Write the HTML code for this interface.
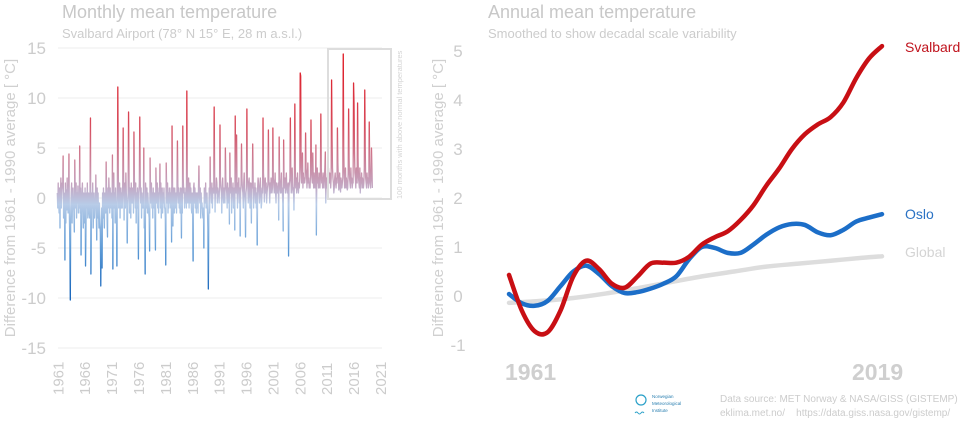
<!DOCTYPE html>
<html><head><meta charset="utf-8">
<style>
html,body{margin:0;padding:0;background:#fff;}
svg{display:block;font-family:"Liberation Sans",sans-serif;}
</style></head>
<body>
<svg id="chart" width="972" height="426" viewBox="0 0 972 426">
<defs>
<linearGradient id="barGrad" gradientUnits="userSpaceOnUse" x1="0" y1="48" x2="0" y2="300">
<stop offset="0" stop-color="#e0101a"/>
<stop offset="0.3" stop-color="#d84a5a"/>
<stop offset="0.55" stop-color="#c4a8c4"/>
<stop offset="0.62" stop-color="#b8cce8"/>
<stop offset="0.8" stop-color="#5c9ad6"/>
<stop offset="1" stop-color="#1060b8"/>
</linearGradient>
</defs>
<g id="left">
<text x="62" y="18" font-size="18" fill="#c8c8c8">Monthly mean temperature</text>
<text x="62" y="38" font-size="13" fill="#cccccc">Svalbard Airport (78° N 15° E, 28 m a.s.l.)</text>
<text transform="translate(15,198) rotate(-90)" text-anchor="middle" font-size="15" fill="#d0d0d0">Difference from 1961 - 1990 average [ °C]</text>
<g id="lgrid"></g><g id="lbars"></g><g id="lticks"></g>
<rect x="328" y="49" width="63" height="150" fill="none" stroke="#dddddd" stroke-width="2"/>
<text transform="translate(402,199) rotate(-90)" font-size="7.5" fill="#d4d4d4">100 months with above normal temperatures</text>
</g>
<g id="right">
<text x="488" y="18" font-size="18" fill="#c8c8c8">Annual mean temperature</text>
<text x="488" y="38" font-size="13" fill="#cccccc">Smoothed to show decadal scale variability</text>
<text transform="translate(443,198) rotate(-90)" text-anchor="middle" font-size="15" fill="#d0d0d0">Difference from 1961 - 1990 average [ °C]</text>
<g id="rticks"></g><g id="rlines"></g>
<text x="505" y="380" font-size="23" font-weight="bold" fill="#cfcfcf">1961</text>
<text x="852" y="380" font-size="23" font-weight="bold" fill="#cfcfcf">2019</text>
<text x="905" y="52" font-size="14" fill="#c0141e">Svalbard</text>
<text x="905" y="219" font-size="14" fill="#2a72c4">Oslo</text>
<text x="905" y="257" font-size="14" fill="#d4d4d4">Global</text>
</g>
<g>
<circle cx="641" cy="400" r="5" fill="none" stroke="#2aa0c8" stroke-width="1.2"/>
<path d="M635 413 q1.5 -2 3 0 q1.5 2 3 0 q1.5 -2 3 0" fill="none" stroke="#2aa0c8" stroke-width="1"/>
<text x="652" y="398" font-size="4.5" fill="#2a7fb0">Norwegian</text>
<text x="652" y="405" font-size="4.5" fill="#2a7fb0">Meteorological</text>
<text x="652" y="412" font-size="4.5" fill="#2a7fb0">Institute</text>
</g>
<text x="720" y="402" font-size="10" fill="#cccccc">Data source: MET Norway &amp; NASA/GISS (GISTEMP)</text>
<text x="720" y="416" font-size="10" fill="#cccccc">eklima.met.no/ &#160;&#160; https://data.giss.nasa.gov/gistemp/</text>
</svg>
<script>
const monthlyStartYear = 1961;
const monthly = [
[0.5,-1.0,1.5,-0.5,-1.5,1.0,-3.0,0.5,2.0,-1.0,0.5,1.5],
[1.0,4.2,-2.0,0.5,-1.0,-6.2,1.5,-2.5,0.8,-1.2,2.0,-0.5],
[-1.5,0.5,4.4,-2.0,-4.5,-10.2,-1.0,0.5,1.5,-2.5,-0.5,1.0],
[-0.5,-1.5,-3.4,3.8,0.5,-1.0,1.5,-2.0,0.5,-0.5,1.2,-1.5],
[0.5,-1.0,5.2,-1.5,1.0,-5.7,-2.0,0.5,1.5,-1.0,-3.0,0.5],
[-1.5,-2.5,1.0,-6.8,-3.0,0.5,-1.0,1.5,-2.0,-0.5,0.5,-1.5],
[-2.0,1.0,8.0,-7.6,-2.5,0.5,-1.0,1.5,-3.0,-1.5,0.5,-2.0],
[-1.0,-0.5,2.3,-1.5,-4.2,1.0,-2.0,0.5,-1.5,-3.0,-0.5,-2.5],
[-3.5,-8.8,-4.0,-1.0,-7.0,0.5,-2.0,1.0,-1.5,-3.0,0.5,-1.0],
[-1.5,3.6,0.5,-2.0,-3.9,1.0,-1.0,2.0,0.5,-1.5,1.0,-0.5],
[-1.0,0.5,-2.0,4.3,-7.1,1.5,2.5,-1.0,0.5,-2.5,1.0,-0.5],
[-1.5,-6.8,1.0,11.1,3.0,-1.0,0.5,1.5,-2.0,0.5,1.0,-1.0],
[0.5,-1.0,1.5,7.0,2.0,-2.2,0.5,1.5,-1.0,2.5,0.5,-0.5],
[-4.5,-1.0,0.5,8.6,2.5,-1.5,1.0,0.5,-2.0,1.5,-0.5,1.0],
[-0.5,1.0,-1.5,6.6,2.0,0.5,-1.0,1.5,-2.5,0.5,-1.0,1.0],
[-1.5,-6.1,0.5,1.5,8.1,2.0,-0.5,1.0,-2.0,0.5,-1.0,-0.5],
[-1.0,5.0,-3.0,-2.0,-7.6,1.5,0.5,-1.0,1.0,-1.5,0.5,-0.5],
[-1.5,-2.0,-5.3,4.0,1.0,-0.5,1.5,-1.0,0.5,-2.0,1.0,-0.5],
[-1.0,0.5,-2.5,-5.2,3.0,1.0,-0.5,1.5,-1.0,0.5,-1.5,1.0],
[0.5,3.4,-1.0,1.5,-2.0,0.5,1.0,-1.5,0.5,-0.5,1.0,-1.0],
[-1.0,-2.0,-6.7,3.5,1.0,-0.5,1.5,-1.5,0.5,-1.0,1.0,-0.5],
[0.5,-1.0,1.0,-4.4,7.2,2.0,-2.8,1.0,0.5,-1.5,1.0,-0.5],
[-1.0,0.5,-1.5,1.0,5.7,1.5,-0.5,1.0,-1.0,0.5,-1.5,1.0],
[-0.5,-4.0,1.0,-1.5,7.2,2.0,0.5,1.0,-1.0,0.5,-0.5,1.0],
[-1.0,10.7,1.5,-0.5,1.0,2.0,-1.0,0.5,1.5,-0.5,1.0,-1.0],
[-1.5,0.5,-2.0,-6.3,1.0,1.5,-0.5,1.0,-1.0,0.5,-1.5,0.5],
[-1.0,0.5,-1.5,1.0,3.2,0.5,-0.5,1.0,-2.0,0.5,-1.0,-0.5],
[-1.5,-2.0,-1.0,-5.0,1.0,0.5,-0.5,1.5,-1.0,-0.5,0.5,-1.5],
[-3.0,-9.1,-2.0,1.0,-1.5,4.1,0.5,1.0,-0.5,1.5,-1.0,0.5],
[1.0,0.5,9.1,2.5,-1.4,1.0,0.5,2.0,1.5,-0.5,1.0,0.5],
[0.5,-0.5,1.5,7.3,2.0,1.0,0.5,-1.5,1.0,2.0,0.5,-0.5],
[1.0,0.5,-0.5,5.0,2.0,1.0,0.5,-1.0,1.5,0.5,-0.5,1.0],
[-2.6,4.5,1.0,0.5,2.0,-1.5,1.0,0.5,1.5,-1.0,0.5,1.0],
[-3.2,8.2,2.0,0.5,6.3,1.0,-1.0,1.5,0.5,2.0,-0.5,1.0],
[-3.8,0.5,1.5,5.4,2.0,1.0,0.5,-1.0,1.5,2.5,0.5,-0.5],
[-3.9,0.5,1.0,8.9,2.0,1.5,-0.5,1.0,2.0,0.5,-1.0,1.5],
[0.5,-2.5,1.5,1.0,5.4,2.0,-1.0,1.0,0.5,1.5,-0.5,1.0],
[-1.0,0.5,-4.7,1.0,2.0,1.5,0.5,-0.5,1.0,2.0,0.5,-1.0],
[-0.5,1.0,0.5,8.0,2.5,1.5,-0.4,1.0,2.0,0.5,1.5,-0.5],
[0.5,1.0,1.5,6.8,2.0,1.0,-0.5,1.5,0.5,2.0,1.0,0.5],
[1.0,7.0,2.0,1.5,0.5,1.0,2.5,0.5,-0.5,1.5,1.0,0.5],
[0.5,1.5,-2.2,6.1,2.0,1.0,0.5,1.5,2.5,0.5,1.0,-0.5],
[-3.3,5.8,1.5,1.0,2.0,0.5,1.5,2.5,1.0,0.5,1.0,1.5],
[-5.8,1.0,1.5,2.0,8.0,2.5,0.5,1.0,3.0,1.5,0.5,1.0],
[-1.2,1.5,9.4,3.0,1.0,2.0,0.5,1.5,2.5,1.0,0.5,1.5],
[1.0,2.0,12.5,12.2,3.0,1.5,2.0,4.5,1.0,2.5,1.5,2.0],
[1.5,2.0,6.5,3.0,2.5,1.0,2.0,3.5,1.5,2.0,1.0,1.5],
[1.0,2.5,7.8,3.5,2.0,1.5,4.5,2.0,1.0,2.5,1.5,1.0],
[1.5,5.3,-3.7,2.0,3.0,1.5,2.0,1.0,2.5,1.5,1.0,2.0],
[8.4,3.0,1.5,2.0,1.0,2.5,1.5,1.0,2.0,3.0,4.6,-0.5],
[1.5,2.0,1.0,2.5,1.5,3.0,2.0,1.5,2.5,2.0,1.0,2.0],
[11.8,6.0,3.0,2.0,1.5,0.5,1.0,2.0,2.5,1.5,1.0,2.0],
[1.5,7.0,3.5,2.0,0.8,1.5,2.5,1.0,0.6,2.0,1.5,1.0],
[1.5,2.0,14.4,5.0,2.5,1.0,1.5,3.0,1.0,2.0,1.5,0.8],
[1.0,2.5,8.9,4.0,2.0,1.5,1.0,3.0,1.5,2.0,1.0,1.5],
[1.5,11.5,9.5,5.0,2.5,2.0,1.0,3.0,2.0,1.5,9.5,4.0],
[2.0,1.5,1.0,3.0,0.5,2.0,1.5,2.5,1.0,2.0,1.5,1.0],
[1.5,3.0,10.8,5.0,2.0,1.5,1.0,2.5,1.5,2.0,1.0,1.5],
[7.6,3.5,1.5,1.0,2.0,5.0,3.0,1.0]
];
const leftYTicks = [15,10,5,0,-5,-10,-15];
const leftXTicks = [1961,1966,1971,1976,1981,1986,1991,1996,2001,2006,2011,2016,2021];

const annualSvalbardYears = [1961,1963,1965,1967,1969,1971,1973,1975,1977,1979,1981,1983,1985,1987,1989,1991,1993,1995,1997,1999,2001,2003,2005,2007,2009,2011,2013,2015,2017,2019];
const annualSvalbard = [0.43,-0.3,-0.72,-0.74,-0.3,0.4,0.72,0.55,0.25,0.17,0.4,0.66,0.68,0.68,0.8,1.05,1.2,1.32,1.55,1.85,2.25,2.6,3.0,3.3,3.5,3.65,3.95,4.45,4.85,5.1];
const annualOsloYears = annualSvalbardYears;
const annualOslo = [0.04,-0.15,-0.2,-0.1,0.2,0.5,0.62,0.45,0.2,0.06,0.08,0.15,0.25,0.4,0.75,1.0,0.98,0.88,0.88,1.05,1.25,1.4,1.47,1.45,1.3,1.24,1.35,1.52,1.6,1.67];
const annualGlobalYears = [1961,1966,1971,1976,1981,1986,1991,1996,2001,2006,2011,2016,2019];
const annualGlobal = [-0.14,-0.1,-0.04,0.05,0.16,0.28,0.4,0.5,0.6,0.66,0.72,0.78,0.81];
const rightYTicks = [5,4,3,2,1,0,-1];

const NS='http://www.w3.org/2000/svg';
function mk(tag, attrs, parent){const e=document.createElementNS(NS,tag);for(const k in attrs)e.setAttribute(k,attrs[k]);parent.appendChild(e);return e;}
const lx = y => 57.3 + (y-1961)*(322.7/60);
const ly = v => 198 - v*10;
const lgrid=document.getElementById('lgrid'), lbars=document.getElementById('lbars'), lticks=document.getElementById('lticks');
leftYTicks.forEach(t=>{
  const g=mk('line',{x1:58,x2:382,y1:ly(t),y2:ly(t),stroke:'#eeeeee','stroke-width':1},lgrid);
  
  
  const tx=mk('text',{x:46,y:ly(t)+6,'text-anchor':'end','font-size':17,fill:'#cccccc'},lticks);
  tx.textContent=t;
  
  
});
leftXTicks.forEach(t=>{
  const tx=mk('text',{transform:`translate(${lx(t)+6},395) rotate(-90)`,'font-size':15,fill:'#cccccc'},lticks);
  tx.textContent=t;
  
  
});
let pts=[];
monthly.forEach((yr,yi)=>{
  yr.forEach((v,mi)=>{
    pts.push(lx(monthlyStartYear+yi+mi/12).toFixed(2)+','+ly(v).toFixed(2));
  });
});
const ml=mk('polyline',{points:pts.join(' '),fill:'none',stroke:'url(#barGrad)','stroke-width':1.3,'stroke-linejoin':'round'},lbars);



const rx = y => 509 + (y-1961)*(373/58);
const ry = v => 296 - v*49;
const rticks=document.getElementById('rticks'), rlines=document.getElementById('rlines');
rightYTicks.forEach(t=>{
  const tx=mk('text',{x:458,y:ry(t)+6,'text-anchor':'middle','font-size':17,fill:'#cccccc'},rticks);
  tx.textContent=t;
  
  
});
function smooth(xs,vs){
  const p=xs.map((y,i)=>[rx(y),ry(vs[i])]);
  let d=`M${p[0][0]},${p[0][1]}`;
  for(let i=0;i<p.length-1;i++){
    const p0=p[i-1]||p[i],p1=p[i],p2=p[i+1],p3=p[i+2]||p2;
    const c1=[p1[0]+(p2[0]-p0[0])/6,p1[1]+(p2[1]-p0[1])/6];
    const c2=[p2[0]-(p3[0]-p1[0])/6,p2[1]-(p3[1]-p1[1])/6];
    d+=` C${c1[0]},${c1[1]} ${c2[0]},${c2[1]} ${p2[0]},${p2[1]}`;
  }
  return d;
}
const gl=mk('path',{d:smooth(annualGlobalYears,annualGlobal),fill:'none',stroke:'#dddddd','stroke-width':4.5,'stroke-linecap':'round'},rlines);


const ol=mk('path',{d:smooth(annualOsloYears,annualOslo),fill:'none',stroke:'#1c6ec8','stroke-width':4.5,'stroke-linecap':'round'},rlines);


const sl=mk('path',{d:smooth(annualSvalbardYears,annualSvalbard),fill:'none',stroke:'#c80f14','stroke-width':4.5,'stroke-linecap':'round'},rlines);


</script>
</body></html>
